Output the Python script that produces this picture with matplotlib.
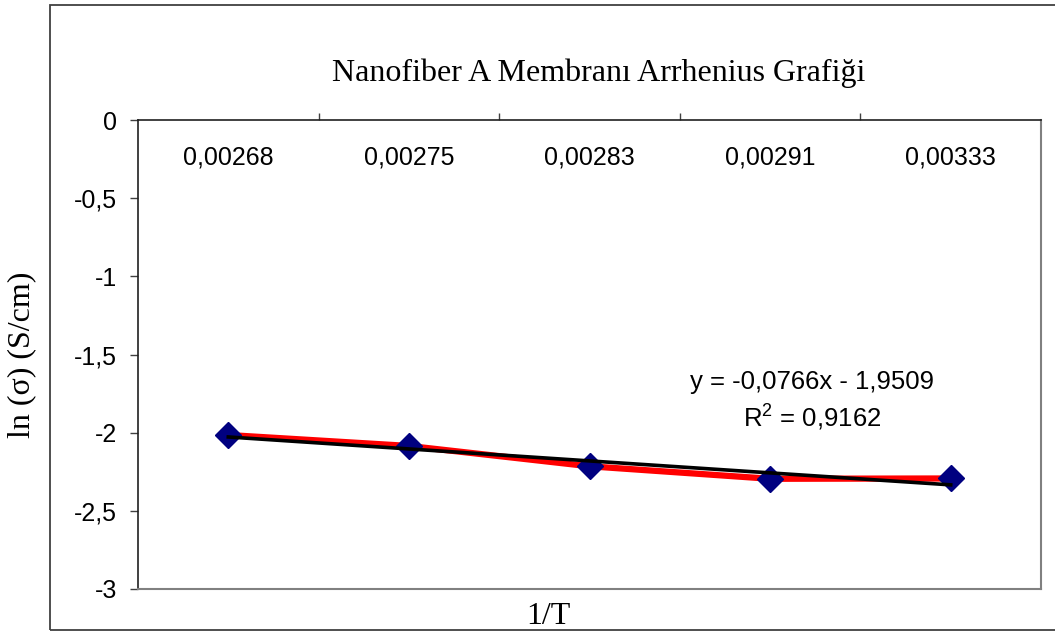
import matplotlib
matplotlib.use("Agg")
import matplotlib.pyplot as plt
from matplotlib.patches import Rectangle
from matplotlib.ticker import FuncFormatter
import numpy as np

# Data
categories = ["0,00268", "0,00275", "0,00283", "0,00291", "0,00333"]
ln_sigma = [-2.015, -2.085, -2.215, -2.295, -2.293]
trend_slope = -0.0766
trend_intercept = -1.9509
eq_text = "y = -0,0766x - 1,9509"
r2_text = r"R$^{\mathrm{2}}$ = 0,9162"
title = "Nanofiber A Membranı Arrhenius Grafiği"
ylabel = "ln (σ) (S/cm)"
xlabel = "1/T"

plt.rcParams['mathtext.fontset'] = 'custom'
plt.rcParams['mathtext.rm'] = 'Liberation Sans'

W, H = 1055, 631
fig = plt.figure(figsize=(W / 100, H / 100), dpi=100)

# outer frame
fig.patches.append(Rectangle((50 / W, 1 / H), 1.2, 1 - 6 / H, transform=fig.transFigure,
                             fill=False, edgecolor="#404040", linewidth=1.3))

ax = fig.add_axes([138 / W, 1 - 589 / H, (1041 - 138) / W, (589 - 120) / H])
x = np.arange(len(categories))
ax.plot(x, ln_sigma, color="red", linewidth=4.5, zorder=2, solid_capstyle='butt')
ax.plot(x, ln_sigma, linestyle="none", marker="D", markersize=13,
        color="#000080", zorder=3)
xt = np.array([1, len(categories)])
ax.plot(xt - 1, trend_slope * xt + trend_intercept, color="black", linewidth=2.6, zorder=4)

ax.set_xlim(-0.5, len(categories) - 0.5)
ax.set_ylim(-3, 0)
ax.set_yticks(np.arange(-3, 0.01, 0.5))
ax.yaxis.set_major_formatter(FuncFormatter(
    lambda v, p: ("%g" % v).replace(".", ",") if abs(v) > 1e-9 else "0"))
ax.tick_params(axis="y", direction="out", length=6, width=1, color="#404040",
               labelsize=18, pad=9, labelfontfamily="Liberation Sans")

ax.xaxis.tick_top()
ax.set_xticks(x)
ax.set_xticklabels(categories)
ax.set_xticks(np.arange(0.5, len(categories) - 0.5, 1), minor=True)
ax.tick_params(axis="x", which="major", length=0, pad=-36, labelsize=18,
               labelfontfamily="Liberation Sans")
ax.tick_params(axis="x", which="minor", direction="out", length=5, width=1,
               color="#404040")

for s in ["left", "top"]:
    ax.spines[s].set_color("#202020")
    ax.spines[s].set_linewidth(1.2)
for s in ["right", "bottom"]:
    ax.spines[s].set_color("#808080")
    ax.spines[s].set_linewidth(1.5)

ax.text(3.232, -1.676, eq_text, ha="center", va="center", fontsize=18.5,
        family="Liberation Sans")
ax.text(3.232, -1.90, r2_text, ha="center", va="center", fontsize=18.5,
        family="Liberation Sans")

fig.text(599 / W, 1 - 73 / H, title, ha="center", va="center", fontsize=23,
         family="Liberation Serif")
fig.text(22 / W, 1 - 355 / H, ylabel, ha="center", va="center", rotation=90,
         fontsize=23, family="Liberation Serif")
fig.text(548 / W, 1 - 617 / H, xlabel, ha="center", va="center", fontsize=23,
         family="Liberation Serif")

fig.savefig("out.png", dpi=100)
